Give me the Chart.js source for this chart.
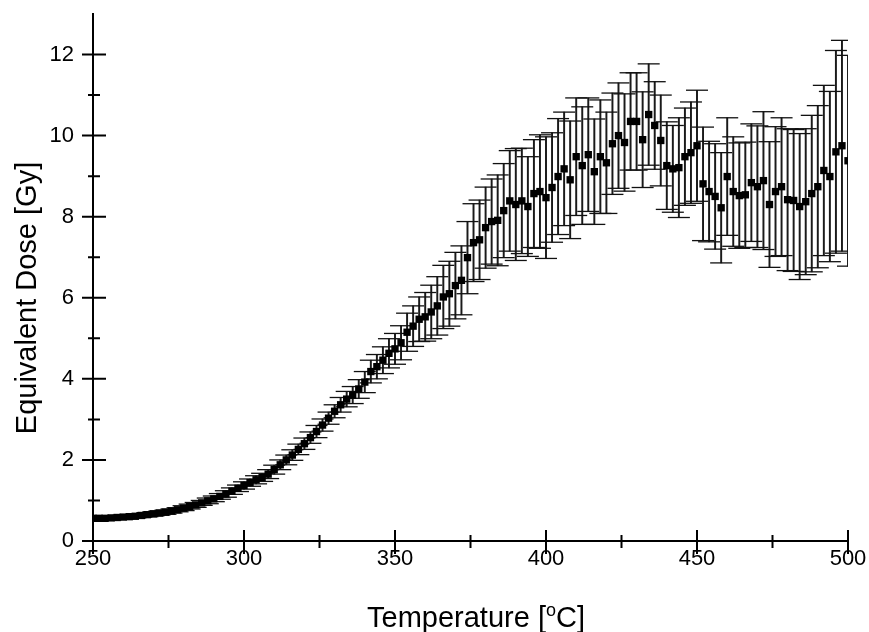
<!DOCTYPE html>
<html>
<head>
<meta charset="utf-8">
<script src="https://cdn.jsdelivr.net/npm/chart.js@4.4.0/dist/chart.umd.min.js"></script>
<style>
  html, body { margin: 0; padding: 0; background: #fff; }
  #wrap { width: 869px; height: 632px; }
</style>
</head>
<body>
<div id="wrap"><canvas id="c" width="869" height="632"></canvas></div>
<script>
// Temperature (°C), every 2 degrees from 250 to 500
const temperatures = [
  250,252,254,256,258,260,262,264,266,268,270,272,274,276,278,280,282,284,286,288,
  290,292,294,296,298,300,302,304,306,308,310,312,314,316,318,320,322,324,326,328,
  330,332,334,336,338,340,342,344,346,348,350,352,354,356,358,360,362,364,366,368,
  370,372,374,376,378,380,382,384,386,388,390,392,394,396,398,400,402,404,406,408,
  410,412,414,416,418,420,422,424,426,428,430,432,434,436,438,440,442,444,446,448,
  450,452,454,456,458,460,462,464,466,468,470,472,474,476,478,480,482,484,486,488,
  490,492,494,496,498,500
];
// Equivalent dose (Gy)
const doses = [
  0.56,0.56,0.56,0.57,0.58,0.59,0.60,0.61,0.63,0.65,0.67,0.69,0.71,0.74,0.77,0.81,0.85,0.89,0.94,0.99,
  1.04,1.10,1.16,1.23,1.30,1.37,1.44,1.51,1.57,1.65,1.76,1.88,2.00,2.12,2.26,2.40,2.55,2.70,2.86,3.03,
  3.20,3.36,3.50,3.60,3.75,3.92,4.18,4.30,4.46,4.63,4.74,4.89,5.15,5.30,5.47,5.53,5.65,5.80,6.02,6.10,
  6.30,6.43,6.99,7.36,7.43,7.73,7.88,7.91,8.15,8.39,8.30,8.39,8.25,8.57,8.62,8.47,8.72,8.99,9.18,8.91,
  9.48,9.26,9.53,9.11,9.48,9.33,9.80,10.00,9.83,10.35,10.35,9.90,10.52,10.25,9.88,9.26,9.18,9.21,9.48,9.58,
  9.75,8.81,8.62,8.50,8.22,8.99,8.62,8.52,8.54,8.84,8.74,8.89,8.30,8.62,8.74,8.42,8.40,8.25,8.37,8.57,
  8.74,9.14,8.99,9.60,9.75,9.38
];
// Error (± Gy)
const doseErrors = [
  0.04,0.04,0.04,0.04,0.04,0.04,0.04,0.04,0.04,0.05,0.05,0.05,0.05,0.05,0.05,0.06,0.06,0.06,0.06,0.07,
  0.07,0.07,0.08,0.08,0.08,0.09,0.09,0.10,0.10,0.11,0.11,0.12,0.12,0.13,0.13,0.14,0.14,0.15,0.15,0.15,
  0.16,0.18,0.19,0.21,0.23,0.26,0.28,0.30,0.33,0.36,0.38,0.42,0.47,0.50,0.55,0.60,0.66,0.72,0.78,0.80,
  0.82,0.85,0.89,0.96,0.98,1.00,1.05,1.12,1.16,1.24,1.38,1.30,1.23,1.33,1.40,1.50,1.35,1.43,1.40,1.45,
  1.45,1.45,1.40,1.30,1.40,1.25,1.25,1.30,1.20,1.20,1.20,1.18,1.25,1.08,1.12,1.08,1.07,1.23,1.20,1.25,
  1.37,1.40,1.24,1.30,1.36,1.45,1.35,1.30,1.30,1.45,1.50,1.70,1.55,1.60,1.70,1.75,1.75,1.80,1.80,1.93,
  2.00,2.10,2.10,2.50,2.60,2.60
];
const xMajorTicks = [250,300,350,400,450,500];
const xMinorTicks = [275,325,375,425,475];
const yMajorTicks = [0,2,4,6,8,10,12];
const yMinorTicks = [1,3,5,7,9,11];
const yTitle = 'Equivalent Dose [Gy]';
const xTitleParts = ['Temperature [', 'o', 'C]'];

const pts = temperatures.map((t,i)=>({x:t, y:doses[i]}));
const capsHi = temperatures.map((t,i)=>({x:t, y:doses[i]+doseErrors[i]}));
const capsLo = temperatures.map((t,i)=>({x:t, y:doses[i]-doseErrors[i]}));
const whiskers = temperatures.map((t,i)=>({x:t, y:[doses[i]-doseErrors[i], doses[i]+doseErrors[i]]}));

const FONT = "'Liberation Sans', Arial, Helvetica, sans-serif";

const crossTicks = {
  id: 'crossTicks',
  afterDraw(chart) {
    const {ctx, scales:{x, y}} = chart;
    const x0 = x.getPixelForValue(250);
    const y0 = y.getPixelForValue(0);
    ctx.save();
    ctx.strokeStyle = '#000';
    ctx.lineWidth = 2;
    ctx.beginPath();
    xMajorTicks.forEach(v => { const p = x.getPixelForValue(v); ctx.moveTo(p, y0-11); ctx.lineTo(p, y0+13); });
    xMinorTicks.forEach(v => { const p = x.getPixelForValue(v); ctx.moveTo(p, y0-6); ctx.lineTo(p, y0+7); });
    yMajorTicks.forEach(v => { const p = y.getPixelForValue(v); ctx.moveTo(x0-11, p); ctx.lineTo(x0+13, p); });
    yMinorTicks.forEach(v => { const p = y.getPixelForValue(v); ctx.moveTo(x0-5, p); ctx.lineTo(x0+7, p); });
    ctx.stroke();

    ctx.fillStyle = '#000';
    // y-axis title
    ctx.save();
    ctx.font = "29px " + FONT;
    ctx.textAlign = 'center';
    ctx.textBaseline = 'middle';
    ctx.translate(28, 298);
    ctx.rotate(-Math.PI/2);
    ctx.fillText(yTitle, 0, 0);
    ctx.restore();

    // x-axis title with superscript o
    const cx = 476;
    const base = 627;
    const big = "29px " + FONT, small = "18px " + FONT;
    ctx.textBaseline = 'alphabetic';
    ctx.textAlign = 'left';
    ctx.font = big; const w1 = ctx.measureText(xTitleParts[0]).width; const w3 = ctx.measureText(xTitleParts[2]).width;
    ctx.font = small; const w2 = ctx.measureText(xTitleParts[1]).width;
    const sx = cx - (w1+w2+w3)/2;
    ctx.font = big; ctx.fillText(xTitleParts[0], sx, base);
    ctx.font = small; ctx.fillText(xTitleParts[1], sx+w1, base-11);
    ctx.font = big; ctx.fillText(xTitleParts[2], sx+w1+w2, base);
    ctx.restore();
  }
};

new Chart(document.getElementById('c'), {
  type: 'scatter',
  data: {
    datasets: [
      { label: 'Equivalent dose', data: pts, pointStyle: 'rect', pointRadius: 5.2, pointHoverRadius: 5.2,
        backgroundColor: '#000', borderColor: '#000', borderWidth: 0 },
      { label: 'upper', data: capsHi, pointStyle: 'line', pointRadius: 11, pointHoverRadius: 11,
        borderColor: '#111', borderWidth: 1.3 },
      { label: 'lower', data: capsLo, pointStyle: 'line', pointRadius: 11, pointHoverRadius: 11,
        borderColor: '#111', borderWidth: 1.3 },
      { type: 'bar', label: 'error', data: whiskers, barThickness: 1.3, backgroundColor: '#1a1a1a', borderWidth: 0 }
    ]
  },
  options: {
    responsive: false,
    animation: false,
    events: [],
    layout: { padding: { left: 0, right: 21, top: 14, bottom: 0 } },
    plugins: { legend: { display: false }, tooltip: { enabled: false } },
    scales: {
      x: {
        type: 'linear', min: 250, max: 500, offset: false,
        grid: { display: false, drawTicks: true, tickLength: 5, offset: false },
        border: { display: true, color: '#000', width: 2 },
        ticks: { stepSize: 50, includeBounds: false, color: '#000', padding: 0, maxRotation: 0,
                 font: { family: FONT, size: 22 } },
        afterFit(s) { s.height = 91; }
      },
      y: {
        type: 'linear', min: 0, max: 13, beginAtZero: true,
        grid: { display: false, drawTicks: true, tickLength: 19 },
        border: { display: true, color: '#000', width: 2 },
        ticks: { stepSize: 2, includeBounds: false, color: '#000', padding: 0,
                 font: { family: FONT, size: 22 } },
        afterFit(s) { s.width = 93; }
      }
    }
  },
  plugins: [crossTicks]
});
</script>
</body>
</html>
